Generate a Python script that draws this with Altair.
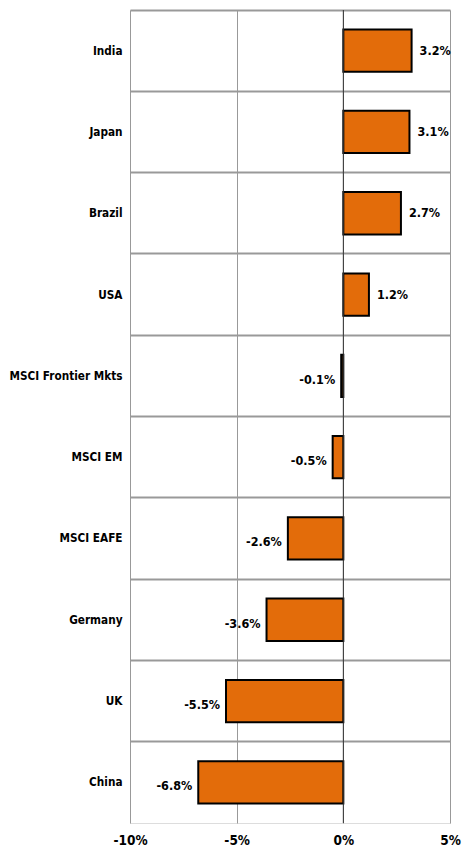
import altair as alt
import pandas as pd

categories = ["India", "Japan", "Brazil", "USA", "MSCI Frontier Mkts", "MSCI EM",
              "MSCI EAFE", "Germany", "UK", "China"]
values = [3.2, 3.1, 2.7, 1.2, -0.1, -0.5, -2.6, -3.6, -5.5, -6.8]
x_ticks = [-10, -5, 0, 5]

df = pd.DataFrame({"cat": categories, "val": values})
df["label"] = [f"{v:.1f}%" for v in values]

FONT = "'DejaVu Sans Condensed', 'Liberation Sans Narrow', 'Arial Narrow', sans-serif"

xscale = alt.Scale(domain=[-10, 5], nice=False, zero=False)
yscale = alt.Scale(domain=categories, paddingInner=0, paddingOuter=0)

base = alt.Chart(df)

bars = base.mark_bar(color="#E36C0A", stroke="black", strokeWidth=2,
                     height=alt.RelativeBandSize(0.52)).encode(
    x=alt.X("val:Q", scale=xscale,
            axis=alt.Axis(values=x_ticks, labelExpr="datum.value + '%'", title=None,
                          grid=True, gridColor="#999999", gridWidth=1,
                          domain=False, ticks=False, labelPadding=10,
                          labelFont=FONT, labelFontSize=13.5, labelFontWeight="bold",
                          labelColor="black", labelFlush=False)),
    x2=alt.datum(0),
    y=alt.Y("cat:N", scale=yscale, sort=categories,
            axis=alt.Axis(title=None, ticks=False, domain=False, grid=True,
                          bandPosition=0, gridColor="#999999", gridWidth=2,
                          labelPadding=8, labelFont=FONT, labelFontSize=11.7,
                          labelFontWeight="bold", labelColor="black")),
)

zero = base.transform_filter("datum.cat == 'India'").transform_calculate(z="0").mark_rule(
    color="#333333", strokeWidth=1).encode(x=alt.X("z:Q", scale=xscale))

pos = base.transform_filter("datum.val >= 0").mark_text(
    align="left", baseline="middle", dx=8, font=FONT, fontSize=12.5,
    fontWeight="bold", color="black").encode(
    x=alt.X("val:Q", scale=xscale), y=alt.Y("cat:N", scale=yscale, sort=categories),
    text="label:N")

neg = base.transform_filter("datum.val < 0").mark_text(
    align="right", baseline="middle", dx=-6, dy=4, font=FONT, fontSize=12.5,
    fontWeight="bold", color="black").encode(
    x=alt.X("val:Q", scale=xscale), y=alt.Y("cat:N", scale=yscale, sort=categories),
    text="label:N")

chart = alt.layer(bars, zero, pos, neg).properties(
    width=455, height=846,
    autosize=alt.AutoSizeParams(type="fit", contains="padding"),
    padding={"left": 0, "top": 1, "right": 2, "bottom": 7},
).configure_view(stroke="#999999", strokeWidth=2).configure(background="white")

chart.save("out.html", embed_options={"renderer": "svg", "actions": False})
